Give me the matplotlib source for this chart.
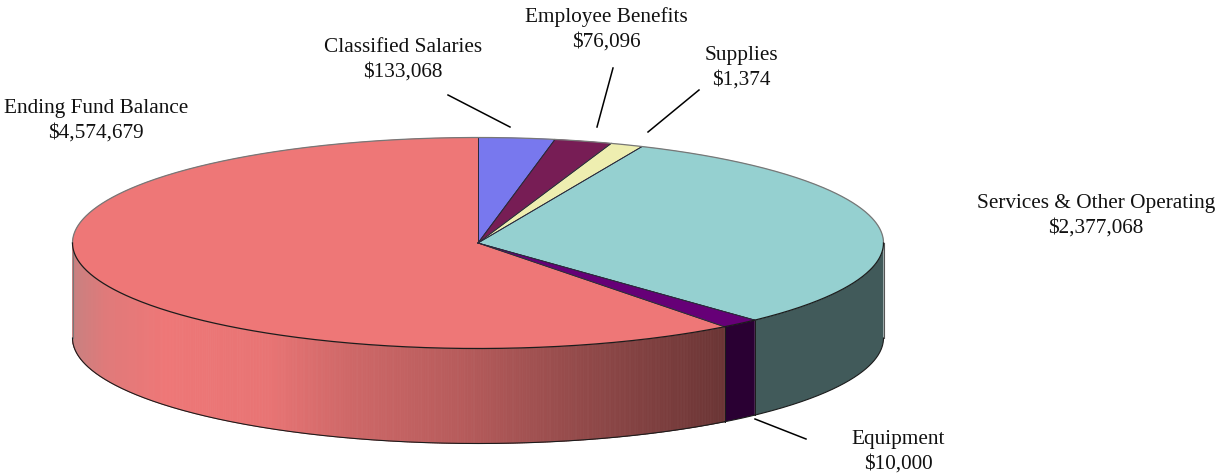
import numpy as np
import matplotlib
matplotlib.use("Agg")
import matplotlib.pyplot as plt
from matplotlib.patches import Polygon
from matplotlib.collections import PolyCollection
from matplotlib.colors import LinearSegmentedColormap

categories = ["Classified Salaries", "Employee Benefits", "Supplies",
              "Services & Other Operating", "Equipment", "Ending Fund Balance"]
amounts = ["$133,068", "$76,096", "$1,374", "$2,377,068", "$10,000", "$4,574,679"]
# slice shares as drawn in the picture (percent of the circle)
drawn_shares = [3.04, 2.29, 1.30, 31.41, 1.56, 60.40]
top_colors = ["#7878EE", "#771D55", "#EEEEB0", "#95D0D0", "#660077", "#EE7777"]
wall_colors = ["#3C3C77", "#3C0F2B", "#777758", "#415A5A", "#2A0033", None]

label_pos = [(403, 59.5), (606, 29), (741, 67.5), (1096, 215.5), (898, 451.5), (96, 120.5)]
leaders = [((448, 95), (510, 127)), ((613, 68), (597, 127)), ((699, 90), (648, 132)),
           None, ((755, 419), (806, 439)), None]

CX, CY, RX, RY, DEPTH = 478, 243, 405.5, 105.5, 95
EDGE = "#1c1c1c"

plt.rcParams["font.family"] = ["Liberation Serif", "DejaVu Serif"]
fig = plt.figure(figsize=(12.19, 4.76), dpi=100)
ax = fig.add_axes([0, 0, 1, 1])
ax.set_xlim(0, 1219)
ax.set_ylim(476, 0)
ax.axis("off")

def rim(t_deg, dy=0.0):
    t = np.radians(t_deg)
    return np.column_stack([CX + RX * np.sin(t), CY - RY * np.cos(t) + dy])

edges = np.concatenate([[0], np.cumsum(drawn_shares)]) / np.sum(drawn_shares) * 360

wall_cmap = LinearSegmentedColormap.from_list("wall", [
    (0.00, "#C98080"), (0.05, "#E07A7A"), (0.14, "#EE7777"), (0.30, "#E87474"),
    (0.42, "#CF6868"), (0.60, "#B65B5B"), (0.80, "#8F4848"), (1.00, "#6B3535")])

# walls: only the front half of the rim shows
for i in range(len(categories)):
    a, b = max(edges[i], 90), min(edges[i + 1], 270)
    if b <= a:
        continue
    t = np.linspace(a, b, max(int((b - a) * 4), 8))
    up, lo = rim(t), rim(t, DEPTH)
    if wall_colors[i] is None:
        strips = [np.array([up[j], up[j + 1], lo[j + 1], lo[j]]) for j in range(len(t) - 1)]
        xm = np.array([s[:, 0].mean() for s in strips])
        frac = (xm - xm.min()) / (xm.max() - xm.min())
        cols = wall_cmap(frac)
        ax.add_collection(PolyCollection(strips, facecolors=cols, edgecolors=cols,
                                         linewidths=0.6, zorder=2))
    else:
        ax.add_patch(Polygon(np.vstack([up, lo[::-1]]), closed=True, facecolor=wall_colors[i],
                             edgecolor="none", zorder=2))
    ax.plot(lo[:, 0], lo[:, 1], color=EDGE, lw=0.8, zorder=3)
    if b < 270:
        ax.plot([up[-1, 0], lo[-1, 0]], [up[-1, 1], lo[-1, 1]], color=EDGE, lw=0.7, zorder=3)

# outer vertical edges of the wall
for t0, shade in ((90, "#555555"), (270, "#777777")):
    p, q = rim(np.array([t0])), rim(np.array([t0]), DEPTH)
    ax.plot([p[0, 0], q[0, 0]], [p[0, 1], q[0, 1]], color=shade, lw=0.8, zorder=3)

# top faces
for i in range(len(categories)):
    t = np.linspace(edges[i], edges[i + 1], max(int((edges[i + 1] - edges[i]) * 4), 8))
    pts = np.vstack([[CX, CY], rim(t)])
    ax.add_patch(Polygon(pts, closed=True, facecolor=top_colors[i], edgecolor=top_colors[i],
                         lw=0.3, zorder=4))
    for e in (edges[i], edges[i + 1]):
        p = rim(np.array([e]))
        ax.plot([CX, p[0, 0]], [CY, p[0, 1]], color="#2a2a3a", lw=0.6, zorder=4.5)

# rim outline: soft grey along the back, dark along the front
t_back = np.linspace(-90, 90, 400)
p_back = rim(t_back)
ax.plot(p_back[:, 0], p_back[:, 1], color="#777777", lw=0.9, zorder=5)
t_front = np.linspace(90, 270, 400)
p_front = rim(t_front)
ax.plot(p_front[:, 0], p_front[:, 1], color=EDGE, lw=0.9, zorder=5)

# leader lines
for seg in leaders:
    if seg is not None:
        ax.plot([seg[0][0], seg[1][0]], [seg[0][1], seg[1][1]], color="black", lw=1.1, zorder=6)

# labels
for name, amount, (x, y) in zip(categories, amounts, label_pos):
    ax.text(x, y, f"{name}\n{amount}", ha="center", va="center", fontsize=15.35,
            color="#111111", linespacing=1.38)

fig.savefig("out.png", dpi=100)
